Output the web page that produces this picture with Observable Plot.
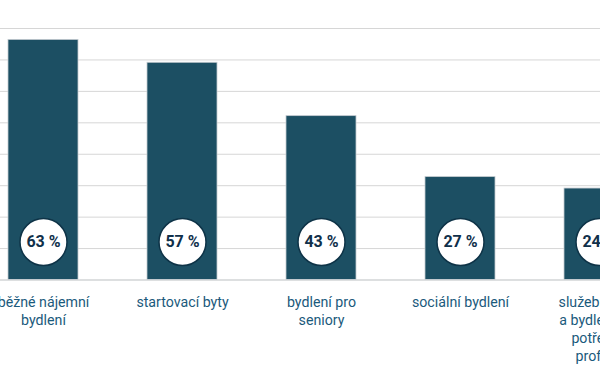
<!DOCTYPE html>
<html>
<head>
<meta charset="utf-8">
<script src="https://cdn.jsdelivr.net/npm/d3@7"></script>
<script src="https://cdn.jsdelivr.net/npm/@observablehq/plot@0.6"></script>
<style>
  html, body { margin: 0; padding: 0; background: #fff; }
  #chart svg { display: block; }
</style>
</head>
<body>
<div id="chart"></div>
<script>
const categories = [
  "běžné nájemní\nbydlení",
  "startovací byty",
  "bydlení pro\nseniory",
  "sociální bydlení",
  "služební byty\na bydlení pro\npotřebné\nprofese"
];
const values = [63, 57, 43, 27, 24];
const gridTicks = [0, 8.25, 16.5, 24.75, 33, 41.25, 49.5, 57.75, 66];

const data = categories.map((c, i) => ({category: c, value: values[i]}));

const chart = Plot.plot({
  width: 600,
  height: 367,
  marginTop: 0,
  marginRight: 0,
  marginBottom: 0,
  marginLeft: 0,
  style: {fontFamily: "Roboto, sans-serif", background: "#fff"},
  x: {domain: categories, range: [-63, 705], padding: 0.5, axis: null},
  y: {domain: [0, 66], range: [279.5, 28], axis: null},
  marks: [
    Plot.ruleY(gridTicks, {stroke: "#d6d6d6", strokeWidth: 1, strokeOpacity: 1}),
    Plot.barY(data, {x: "category", y: "value", fill: "#1c4f63", stroke: "#c3cad0", strokeWidth: 0.8}),
    Plot.ruleY([0], {stroke: "#cfd3d6", strokeWidth: 1.2}),
    Plot.dot(data, {x: "category", y: () => 0, dy: -38, r: 23.5, fill: "#fff", stroke: "#0e3347", strokeWidth: 1.5}),
    Plot.text(data, {x: "category", y: () => 0, dy: -38, text: d => d.value + " %", fontSize: 16, fontWeight: "bold", fill: "#10304a"}),
    Plot.text(data, {x: "category", y: () => 0, dy: 14, text: "category", lineAnchor: "top", lineHeight: 1.27, fontSize: 14.2, fill: "#1b5a7c"})
  ]
});
document.getElementById("chart").appendChild(chart);
</script>
</body>
</html>
